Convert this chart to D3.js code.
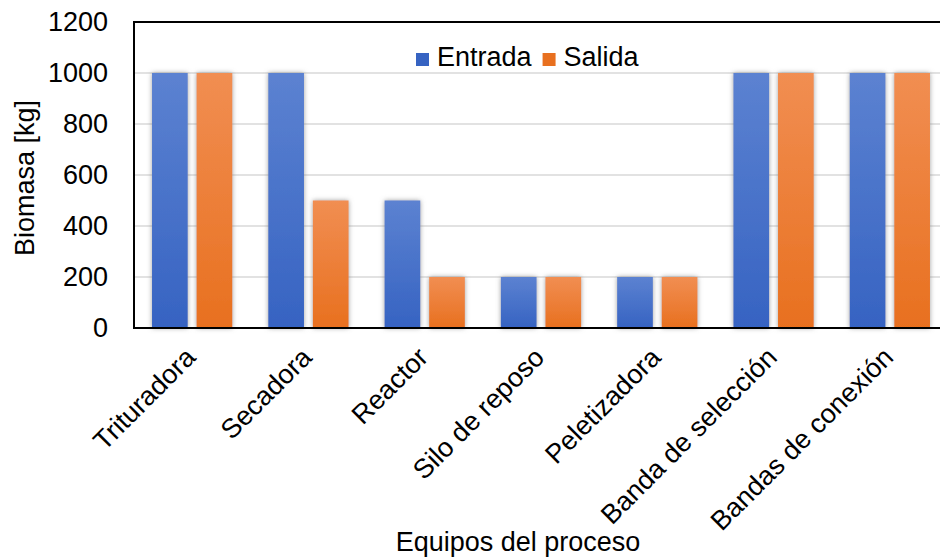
<!DOCTYPE html>
<html>
<head>
<meta charset="utf-8">
<script src="https://cdn.jsdelivr.net/npm/d3@7"></script>
<style>
  html, body { margin: 0; padding: 0; background: #fff; overflow: hidden; }
  svg { display: block; font-family: "Liberation Sans", Arial, sans-serif; }
</style>
</head>
<body>
<svg id="chart" width="940" height="558"></svg>
<script>
// Biomass flowing in and out of each piece of process equipment
const categories = ["Trituradora", "Secadora", "Reactor", "Silo de reposo",
                    "Peletizadora", "Banda de selección", "Bandas de conexión"];
const series = ["Entrada", "Salida"];
const entrada = [1000, 1000, 500, 200, 200, 1000, 1000];
const salida  = [1000, 500, 200, 200, 200, 1000, 1000];
const yTicks = [0, 200, 400, 600, 800, 1000, 1200];

const seriesValues = { Entrada: entrada, Salida: salida };
const colors = {
  Entrada: ["#5c82d1", "#3663c2"],
  Salida:  ["#f18e52", "#e8701f"]
};

const svg = d3.select("#chart");
const plot = { left: 134, right: 948, top: 22, bottom: 328 };
const fontSize = 27;

const x = d3.scaleBand().domain(categories).range([plot.left, plot.right]);
const bw = x.bandwidth();
const xs = d3.scaleBand().domain(series)
  .range([bw * 0.155, bw * 0.845]).paddingInner(0.2);
const y = d3.scaleLinear().domain([0, 1200]).range([plot.bottom, plot.top]);

const defs = svg.append("defs");
series.forEach(s => {
  const g = defs.append("linearGradient")
    .attr("id", "grad-" + s).attr("x1", 0).attr("y1", 0).attr("x2", 0).attr("y2", 1);
  g.append("stop").attr("offset", "0%").attr("stop-color", colors[s][0]);
  g.append("stop").attr("offset", "100%").attr("stop-color", colors[s][1]);
});
const shadow = defs.append("filter").attr("id", "barShadow")
  .attr("x", "-30%").attr("y", "-10%").attr("width", "160%").attr("height", "120%");
shadow.append("feDropShadow").attr("dx", 0).attr("dy", 0)
  .attr("stdDeviation", 2.4).attr("flood-color", "#7f7f7f").attr("flood-opacity", 0.75);

// Horizontal gridlines
svg.append("g")
  .selectAll("line")
  .data(yTicks.filter(t => t > 0 && t < 1200))
  .join("line")
  .attr("x1", plot.left).attr("x2", plot.right)
  .attr("y1", d => y(d)).attr("y2", d => y(d))
  .attr("stroke", "#d9d9d9").attr("stroke-width", 1.3);

// Bars
const groups = svg.append("g").selectAll("g")
  .data(categories)
  .join("g")
  .attr("transform", d => `translate(${x(d)},0)`);

groups.selectAll("rect")
  .data((c, i) => series.map(s => ({ s, v: seriesValues[s][i] })))
  .join("rect")
  .attr("x", d => xs(d.s))
  .attr("width", xs.bandwidth())
  .attr("y", d => y(d.v))
  .attr("height", d => y(0) - y(d.v))
  .attr("fill", d => `url(#grad-${d.s})`)
  .attr("filter", "url(#barShadow)");

// Plot frame (top, left, bottom)
const frame = svg.append("g").attr("stroke", "#000").attr("stroke-width", 2).attr("fill", "none");
frame.append("path")
  .attr("d", `M${plot.right},${plot.top}H${plot.left}V${plot.bottom}H${plot.right}`);

// Y axis tick labels
const yAxis = d3.axisLeft(y).tickValues(yTicks).tickFormat(d3.format("d"))
  .tickSize(0).tickPadding(26);
const gy = svg.append("g").attr("transform", `translate(${plot.left},0)`).call(yAxis);
gy.select(".domain").remove();
gy.selectAll("text")
  .attr("font-size", fontSize).attr("fill", "#000")
  .attr("font-family", "Liberation Sans, Arial, sans-serif");

// X axis tick labels, rotated
const xAxis = d3.axisBottom(x).tickSize(0).tickPadding(0);
const gx = svg.append("g").attr("transform", `translate(0,${plot.bottom})`).call(xAxis);
gx.select(".domain").remove();
gx.selectAll("text")
  .attr("font-size", fontSize).attr("fill", "#000")
  .attr("font-family", "Liberation Sans, Arial, sans-serif")
  .attr("text-anchor", "end")
  .attr("dy", 0).attr("y", 0)
  .attr("transform", "translate(5,31) rotate(-45)");

// Axis titles
svg.append("text")
  .attr("transform", `translate(34,178) rotate(-90)`)
  .attr("text-anchor", "middle")
  .attr("font-size", fontSize)
  .text("Biomasa [kg]");

svg.append("text")
  .attr("x", 518).attr("y", 551)
  .attr("text-anchor", "middle")
  .attr("font-size", fontSize)
  .text("Equipos del proceso");

// Legend
const legend = svg.append("g").attr("transform", "translate(416,53)");
let lx = 0;
series.forEach(s => {
  legend.append("rect").attr("x", lx).attr("y", 0).attr("width", 13).attr("height", 13)
    .attr("fill", colors[s][1]);
  const t = legend.append("text").attr("x", lx + 21).attr("y", 12.5)
    .attr("font-size", fontSize).text(s);
  lx += 21 + t.node().getComputedTextLength() + 11;
});
</script>
</body>
</html>
